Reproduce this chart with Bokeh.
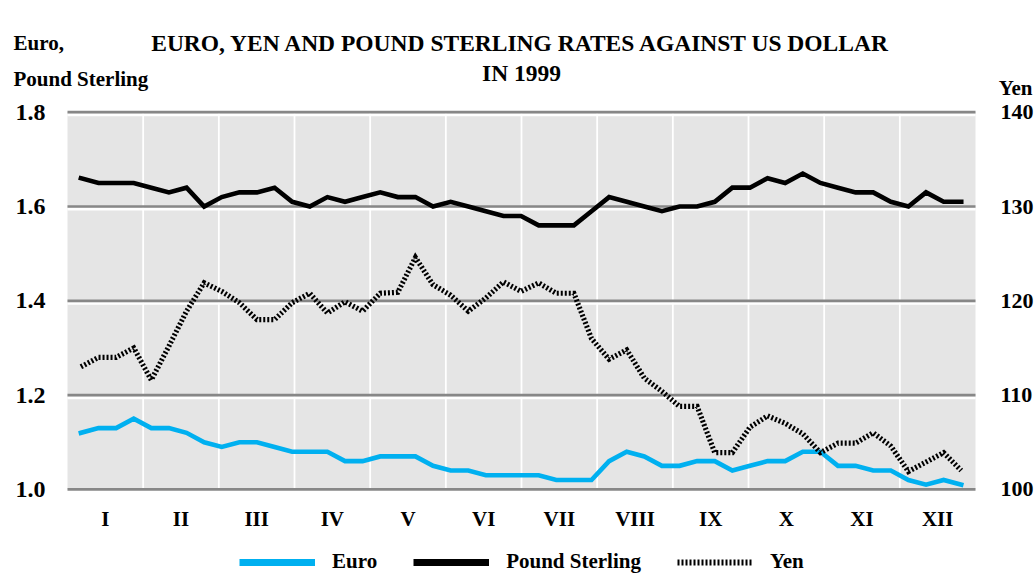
from bokeh.plotting import figure
from bokeh.models import (Range1d, LinearAxis, FixedTicker, Label, Legend,
                          LegendItem, PrintfTickFormatter)
from bokeh.embed import file_html
from bokeh.resources import INLINE

# ---------------- data ----------------
months = ["I", "II", "III", "IV", "V", "VI", "VII", "VIII", "IX", "X", "XI", "XII"]
week = list(range(51))  # weekly observations through 1999

euro = [1.12, 1.13, 1.13, 1.15, 1.13, 1.13, 1.12, 1.10, 1.09, 1.10,
        1.10, 1.09, 1.08, 1.08, 1.08, 1.06, 1.06, 1.07, 1.07, 1.07,
        1.05, 1.04, 1.04, 1.03, 1.03, 1.03, 1.03, 1.02, 1.02, 1.02,
        1.06, 1.08, 1.07, 1.05, 1.05, 1.06, 1.06, 1.04, 1.05, 1.06,
        1.06, 1.08, 1.08, 1.05, 1.05, 1.04, 1.04, 1.02, 1.01, 1.02, 1.01]

pound = [1.66, 1.65, 1.65, 1.65, 1.64, 1.63, 1.64, 1.60, 1.62, 1.63,
         1.63, 1.64, 1.61, 1.60, 1.62, 1.61, 1.62, 1.63, 1.62, 1.62,
         1.60, 1.61, 1.60, 1.59, 1.58, 1.58, 1.56, 1.56, 1.56, 1.59,
         1.62, 1.61, 1.60, 1.59, 1.60, 1.60, 1.61, 1.64, 1.64, 1.66,
         1.65, 1.67, 1.65, 1.64, 1.63, 1.63, 1.61, 1.60, 1.63, 1.61, 1.61]

yen = [113.0, 114.0, 114.0, 115.0, 111.6, 115.2, 118.9, 121.9, 121.0, 119.8,
       118.0, 118.0, 119.8, 120.8, 118.7, 119.9, 118.9, 120.8, 120.9, 124.6,
       121.7, 120.6, 118.9, 120.3, 122.0, 121.0, 121.9, 120.8, 120.8, 116.0,
       113.8, 114.8, 111.8, 110.4, 108.8, 108.8, 103.9, 103.9, 106.6, 107.8,
       107.0, 105.9, 103.9, 104.9, 104.9, 106.0, 104.6, 101.9, 102.9, 103.9, 102.0]

left_ticks = [1.0, 1.2, 1.4, 1.6, 1.8]
right_ticks = [100, 110, 120, 130, 140]

title_1 = "EURO, YEN AND POUND STERLING RATES AGAINST US DOLLAR"
title_2 = "IN 1999"
left_unit = ["Euro,", "Pound Sterling"]
right_unit = "Yen"
series_names = ["Euro", "Pound Sterling", "Yen"]

# ---------------- layout / style ----------------
FONT = "Liberation Serif"
EURO_C = "#00B0F0"
BG = "#E5E5E5"
GRID_C = "#878787"
W, H = 1035, 576
FL, FR, FT, FB = 67, 975, 107, 494   # chart area edges in page pixels

X0, X1 = -0.761, 50.81          # week extent of the chart area
Y0, Y1 = 0.9892, 1.81           # left-scale extent of the chart area

PX_X = (FR - FL) / (X1 - X0)    # pixels per week
PX_Y = (FB - FT) / (Y1 - Y0)    # pixels per unit (left scale)
PX_M = (FR - FL) / 12.0         # pixels per month

NAN = float("nan")


def to_yen(v):
    return 100 + (v - 1.0) * 50


# the frame covers the whole canvas; axes are pinned at the chart edges
XS, XE = X0 - FL / PX_X, X1 + (W - FR) / PX_X
YS, YE = Y0 - (H - FB) / PX_Y, Y1 + FT / PX_Y

p = figure(width=W, height=H, output_backend="svg", toolbar_location=None,
           x_range=Range1d(XS, XE), y_range=Range1d(YS, YE),
           x_axis_location=None, y_axis_location=None, title=None,
           min_border=0, outline_line_color=None,
           background_fill_color="white", border_fill_color="white")
p.xgrid.visible = False
p.ygrid.visible = False

p.extra_y_ranges = {"yen": Range1d(to_yen(YS), to_yen(YE))}
p.extra_x_ranges = {"month": Range1d(0 - FL / PX_M, 12 + (W - FR) / PX_M)}

# grey chart band
p.quad(left=[X0], right=[X1], bottom=[left_ticks[0]], top=[left_ticks[-1]],
       fill_color=BG, line_color=None, level="image")

# white month separators
month_w = (X1 - X0) / len(months)
seps = [X0 + k * month_w for k in range(1, len(months))]
p.segment(x0=seps, x1=seps, y0=[left_ticks[0]] * len(seps), y1=[left_ticks[-1]] * len(seps),
          line_color="white", line_width=1.8)
# white highlight under each horizontal grid line, then the grey grid line
under = [t - 0.0057 for t in left_ticks]
p.segment(x0=[X0] * 5, x1=[X1] * 5, y0=under, y1=under, line_color="white", line_width=2.7)
p.segment(x0=[X0] * 5, x1=[X1] * 5, y0=left_ticks, y1=left_ticks,
          line_color=GRID_C, line_width=2.7)

# series
p.line(week, euro, line_color=EURO_C, line_width=4.6, line_join="miter", line_cap="square")
p.line(week, pound, line_color="black", line_width=4.6, line_join="miter", line_cap="square")
p.line(week, yen, y_range_name="yen", line_color="black", line_width=5.2,
       line_dash="2 2", line_join="miter")

# legend-only renderers (thicker strokes, as in the reference legend; draw nothing)
lg_e = p.line(x=[NAN], y=[NAN], line_color=EURO_C, line_width=7)
lg_p = p.line(x=[NAN], y=[NAN], line_color="black", line_width=7)
lg_y = p.line(x=[NAN], y=[NAN], line_color="black", line_width=6, line_dash="2 2")


def style_axis(ax, size, standoff):
    ax.axis_line_color = None
    ax.major_tick_line_color = None
    ax.minor_tick_line_color = None
    ax.major_tick_in = 0
    ax.major_tick_out = 0
    ax.major_label_text_font = FONT
    ax.major_label_text_font_style = "bold"
    ax.major_label_text_font_size = size
    ax.major_label_text_color = "black"
    ax.major_label_standoff = standoff


xax = LinearAxis(x_range_name="month", fixed_location=Y0,
                 ticker=FixedTicker(ticks=[k + 0.5 for k in range(12)]),
                 major_label_overrides={k + 0.5: m for k, m in enumerate(months)})
style_axis(xax, "21px", 12)
p.add_layout(xax, "below")

yax = LinearAxis(fixed_location=X0, ticker=FixedTicker(ticks=left_ticks),
                 formatter=PrintfTickFormatter(format="%.1f"))
style_axis(yax, "24px", 22)
p.add_layout(yax, "left")

rax = LinearAxis(y_range_name="yen", fixed_location=X1,
                 ticker=FixedTicker(ticks=right_ticks))
style_axis(rax, "22px", 25)
p.add_layout(rax, "right")


# captions (screen units, measured from the canvas bottom-left)
def caption(px, py, text, size, align):
    p.add_layout(Label(x=px, y=H - py, x_units="screen", y_units="screen", text=text,
                       text_font=FONT, text_font_style="bold", text_font_size=size,
                       text_color="black", text_align=align,
                       text_baseline="alphabetic"))


caption(521, 42, title_1, "23.5px", "center")
caption(521, 72, title_2, "23.5px", "center")
caption(13, 42, left_unit[0], "21px", "left")
caption(13, 78, left_unit[1], "21px", "left")
caption(1032, 87, right_unit, "21px", "right")

legend = Legend(items=[LegendItem(label=series_names[0], renderers=[lg_e]),
                       LegendItem(label=series_names[1], renderers=[lg_p]),
                       LegendItem(label=series_names[2], renderers=[lg_y])],
                orientation="horizontal", location=(239, 2),
                glyph_width=76, glyph_height=20, label_standoff=17, spacing=36,
                padding=0, margin=0, border_line_color=None,
                background_fill_alpha=0,
                label_text_font=FONT, label_text_font_style="bold",
                label_text_font_size="21px", label_text_color="black")
p.add_layout(legend)

open("out.html", "w").write(file_html(p, INLINE))
